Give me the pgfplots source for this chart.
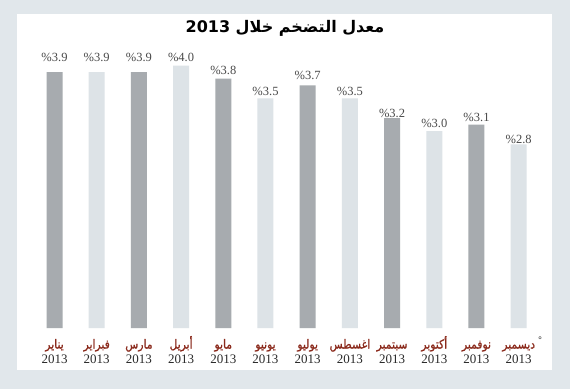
\documentclass[border=0pt]{standalone}
\usepackage{pgfplots}
\pgfplotsset{compat=1.18}
\usepackage{pgfplotstable}
\usepackage{fontspec}
\setmainfont{Liberation Serif}
\newfontfamily\arfont[Script=Arabic]{DejaVu Sans}
\newfontfamily\armon[Script=Arabic, FakeStretch=0.86, FakeBold=1]{DejaVu Sans}
\TeXXeTstate=1
\definecolor{bgout}{HTML}{E1E7EB}
\definecolor{bardark}{HTML}{A7ABAF}
\definecolor{barlight}{HTML}{DDE3E7}
\definecolor{monred}{HTML}{8B2A1C}
\definecolor{valgray}{HTML}{4A4A4A}
\definecolor{yeargray}{HTML}{2A2A2A}
\pgfplotstableread{
x y
0 3.9
2 3.9
4 3.8
6 3.7
8 3.2
10 3.1
}\darktab
\pgfplotstableread{
x y
1 3.9
3 4.0
5 3.5
7 3.5
9 3.0
11 2.8
}\lighttab
\pgfplotstableread{
x v ly
0 3.9 4.131
1 3.9 4.131
2 3.9 4.131
3 4.0 4.131
4 3.8 3.933
5 3.5 3.602
6 3.7 3.857
7 3.5 3.602
8 3.2 3.277
9 3.0 3.125
10 3.1 3.216
11 2.8 2.881
}\labtab
\newcommand\mon[1]{{\color{monred}\armon\fontsize{12.5bp}{15bp}\selectfont\raisebox{0pt}[11bp][4bp]{\beginR #1\endR}}\\{\color{yeargray}\fontsize{13bp}{15bp}\selectfont\raisebox{0pt}[9bp][2bp]{2013}}}
\begin{document}
\begin{tikzpicture}
\fill[bgout] (0,0) rectangle (570bp,389bp);
\fill[white] (17bp,19bp) rectangle (552bp,375bp);
\begin{axis}[
  at={(0,61bp)}, anchor=south west,
  scale only axis, width=570bp, height=328bp,
  xmin=-1.2915, xmax=12.216, ymin=0, ymax=5,
  axis line style={draw=none},
  ytick=\empty,
  xtick={0,...,11},
  major tick length=0pt,
  xticklabels={\mon{يناير},\mon{فبراير},\mon{مارس},\mon{أبريل},\mon{مايو},\mon{يونيو},\mon{يوليو},\mon{اغسطس},\mon{سبتمبر},\mon{أكتوبر},\mon{نوفمبر},\mon{ديسمبر}},
  xticklabel style={align=center, font=\fontsize{11bp}{15bp}\selectfont, anchor=north, yshift=-6bp},
  clip=false,
]
\addplot[ybar, bar width=16bp, bar shift=0pt, fill=bardark, draw=none] table[x=x,y=y]{\darktab};
\addplot[ybar, bar width=16bp, bar shift=0pt, fill=barlight, draw=none] table[x=x,y=y]{\lighttab};
\addplot[draw=none, mark=none, point meta=explicit,
  nodes near coords={\%\pgfmathprintnumber[fixed,fixed zerofill,precision=1]{\pgfplotspointmeta}},
  nodes near coords align={center},
  every node near coord/.append style={font=\fontsize{12.5bp}{14bp}\selectfont, text=valgray, inner sep=0pt, /pgf/number format/assume math mode=true}]
  table[x=x,y=ly,meta=v]{\labtab};
\end{axis}
\node[font=\arfont\bfseries\fontsize{16bp}{18bp}\selectfont] at (285bp,361bp) {\beginR معدل التضخم خلال \beginL 2013\endL\endR};
\node[font=\arfont\fontsize{9bp}{10bp}\selectfont, text=valgray] at (540bp,49bp) {°};
\pgfresetboundingbox
\path[use as bounding box] (0,0) rectangle (570bp,389bp);
\end{tikzpicture}
\end{document}
